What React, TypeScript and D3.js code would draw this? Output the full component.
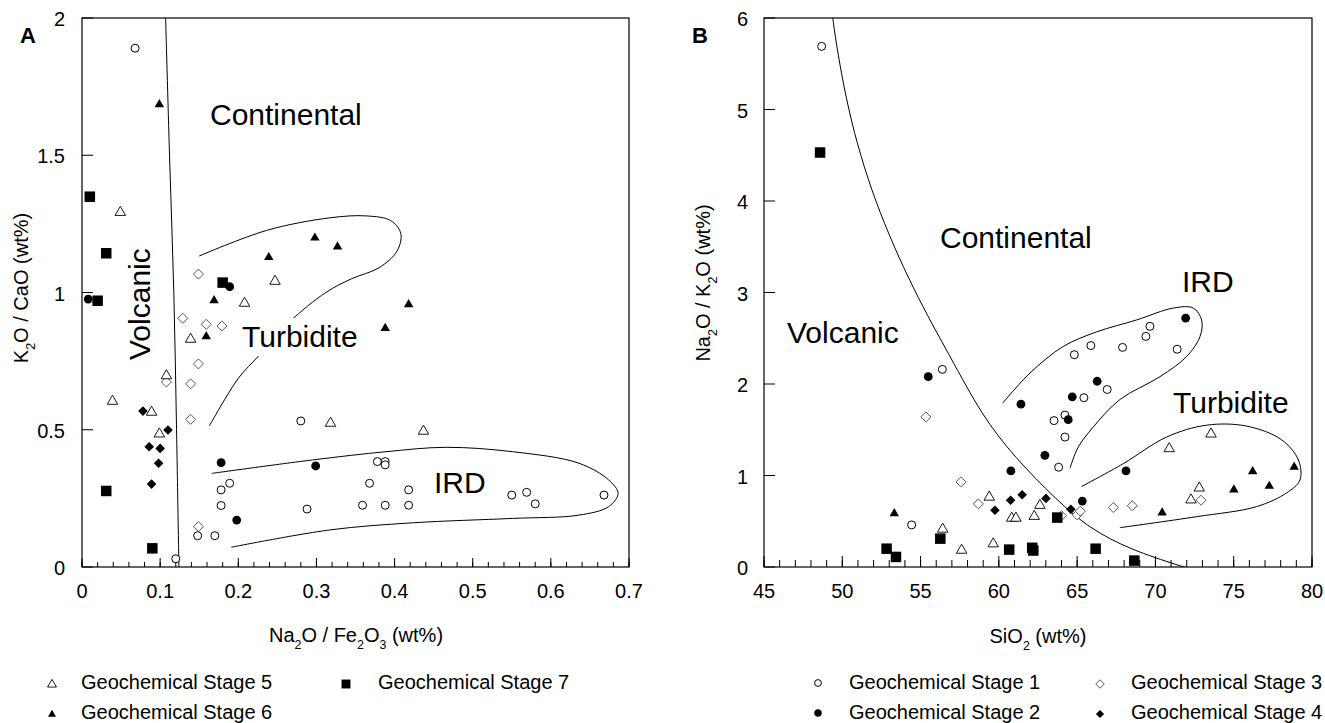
import React from 'react';
import * as d3 from 'd3';

type P = [number, number];

const FONT = '"Liberation Sans", Arial, Helvetica, sans-serif';

// ---------------- Panel A : Na2O/Fe2O3 vs K2O/CaO ----------------
const aXTicks = [0, 0.1, 0.2, 0.3, 0.4, 0.5, 0.6, 0.7];
const aXTickLabels = ['0', '0.1', '0.2', '0.3', '0.4', '0.5', '0.6', '0.7'];
const aYTicks = [0, 0.5, 1, 1.5, 2];
const aYTickLabels = ['0', '0.5', '1', '1.5', '2'];

const aStage1: P[] = [
  [0.068, 1.89], [0.12, 0.03], [0.28, 0.532], [0.189, 0.305], [0.178, 0.281], [0.178, 0.224],
  [0.288, 0.211], [0.148, 0.114], [0.17, 0.114], [0.378, 0.384], [0.388, 0.384], [0.388, 0.372],
  [0.368, 0.305], [0.418, 0.281], [0.359, 0.225], [0.388, 0.225], [0.418, 0.225], [0.55, 0.262],
  [0.569, 0.272], [0.58, 0.23], [0.668, 0.262],
];
const aStage2: P[] = [[0.008, 0.976], [0.189, 1.021], [0.178, 0.38], [0.299, 0.368], [0.198, 0.171]];
const aStage3: P[] = [
  [0.149, 1.067], [0.129, 0.906], [0.159, 0.884], [0.179, 0.878], [0.149, 0.74], [0.139, 0.667],
  [0.108, 0.674], [0.139, 0.538], [0.149, 0.147],
];
const aStage4: P[] = [[0.078, 0.568], [0.11, 0.499], [0.086, 0.438], [0.1, 0.432], [0.098, 0.378], [0.089, 0.302]];
const aStage5: P[] = [
  [0.049, 1.294], [0.247, 1.043], [0.208, 0.963], [0.139, 0.832], [0.108, 0.699], [0.039, 0.606],
  [0.089, 0.566], [0.099, 0.487], [0.318, 0.526], [0.437, 0.497],
];
const aStage6: P[] = [
  [0.099, 1.687], [0.239, 1.13], [0.298, 1.201], [0.327, 1.169], [0.169, 0.973], [0.159, 0.842],
  [0.418, 0.958], [0.388, 0.872],
];
const aStage7: P[] = [[0.01, 1.349], [0.031, 1.143], [0.18, 1.036], [0.02, 0.97], [0.031, 0.277], [0.09, 0.068]];

const aVolcanicBoundary: P[] = [[0.107, 2.0], [0.112, 1.5], [0.1175, 1.0], [0.121, 0.5], [0.124, 0]];
const aTurbiditeField: P[] = [
  [0.15, 1.133], [0.236, 1.226], [0.317, 1.272], [0.364, 1.279], [0.395, 1.262], [0.408, 1.215],
  [0.403, 1.15], [0.38, 1.09], [0.345, 1.05], [0.312, 1.0], [0.266, 0.894], [0.227, 0.772],
  [0.2, 0.687], [0.163, 0.514],
];
const aIrdField: P[] = [
  [0.166, 0.341], [0.295, 0.39], [0.389, 0.42], [0.466, 0.436], [0.551, 0.42], [0.636, 0.378],
  [0.674, 0.317], [0.686, 0.268], [0.674, 0.22], [0.636, 0.189], [0.551, 0.177], [0.423, 0.161],
  [0.317, 0.135], [0.191, 0.072],
];

// ---------------- Panel B : SiO2 vs Na2O/K2O ----------------
const bXTicks = [45, 50, 55, 60, 65, 70, 75, 80];
const bXTickLabels = ['45', '50', '55', '60', '65', '70', '75', '80'];
const bYTicks = [0, 1, 2, 3, 4, 5, 6];
const bYTickLabels = ['0', '1', '2', '3', '4', '5', '6'];

const bStage1: P[] = [
  [48.68, 5.69], [56.39, 2.16], [54.43, 0.46], [69.65, 2.63], [69.39, 2.52], [71.39, 2.38],
  [67.9, 2.4], [65.88, 2.42], [64.82, 2.32], [66.92, 1.94], [65.43, 1.85], [64.22, 1.66],
  [63.52, 1.6], [64.22, 1.42], [63.82, 1.09],
];
const bStage2: P[] = [
  [55.49, 2.08], [71.93, 2.72], [66.28, 2.03], [64.69, 1.86], [61.41, 1.78], [64.43, 1.61],
  [62.94, 1.22], [60.77, 1.05], [68.12, 1.05], [65.33, 0.72],
];
const bStage3: P[] = [
  [55.34, 1.64], [57.58, 0.93], [58.69, 0.69], [72.91, 0.73], [67.31, 0.65], [68.52, 0.67],
  [64.0, 0.56], [65.0, 0.57], [65.2, 0.61],
];
const bStage4: P[] = [[60.75, 0.73], [61.49, 0.79], [59.75, 0.62], [63.01, 0.75], [64.6, 0.63]];
const bStage5: P[] = [
  [56.41, 0.42], [57.62, 0.19], [59.39, 0.77], [60.82, 0.54], [61.09, 0.54], [62.26, 0.56],
  [62.62, 0.68], [59.64, 0.26], [73.55, 1.46], [70.88, 1.3], [72.8, 0.87], [72.27, 0.74],
];
const bStage6: P[] = [[53.32, 0.59], [76.21, 1.05], [78.86, 1.1], [75.01, 0.85], [77.27, 0.89], [70.43, 0.6]];
const bStage7: P[] = [
  [48.58, 4.53], [56.26, 0.31], [52.83, 0.2], [53.43, 0.11], [60.66, 0.19], [62.13, 0.21],
  [62.2, 0.18], [63.73, 0.54], [66.18, 0.2], [68.65, 0.07],
];

const bVolcanicBoundary: P[] = [
  [49.25, 6.25], [49.35, 6.0], [50.3, 5.0], [52.0, 4.0], [54.6, 3.0], [56.9, 2.3], [58.9, 1.66],
  [61.0, 1.2], [63.7, 0.73], [65.8, 0.42], [68.4, 0.19], [71.6, 0.01], [72.8, -0.05],
];
const bIrdField: P[] = [
  [60.24, 1.79], [61.99, 2.12], [64.11, 2.41], [66.25, 2.57], [68.8, 2.7], [71.14, 2.83],
  [72.41, 2.83], [72.95, 2.7], [72.85, 2.52], [71.99, 2.3], [70.29, 2.08], [67.73, 1.83],
  [66.03, 1.53], [65.07, 1.31], [64.54, 1.08],
];
const bTurbiditeField: P[] = [
  [65.29, 0.88], [67.95, 1.13], [70.71, 1.42], [73.27, 1.55], [75.82, 1.54], [78.06, 1.39],
  [79.13, 1.17], [79.23, 0.95], [78.38, 0.81], [76.46, 0.66], [72.63, 0.55], [67.73, 0.43],
];

const stageNames = [
  'Geochemical Stage 1', 'Geochemical Stage 2', 'Geochemical Stage 3', 'Geochemical Stage 4',
  'Geochemical Stage 5', 'Geochemical Stage 6', 'Geochemical Stage 7',
];
type Kind = 'oc' | 'fc' | 'od' | 'fd' | 'ot' | 'ft' | 'fs';
const stageKinds: Kind[] = ['oc', 'fc', 'od', 'fd', 'ot', 'ft', 'fs'];

function Marker({ kind, x, y, k = 1 }: { kind: Kind; x: number; y: number; k?: number }) {
  switch (kind) {
    case 'oc':
      return <circle cx={x} cy={y} r={4 * k} fill="#fff" stroke="#000" strokeWidth={1} />;
    case 'fc':
      return <circle cx={x} cy={y} r={4.4 * k} fill="#000" />;
    case 'od': {
      const h = 5 * k;
      return <polygon points={`${x},${y - h} ${x + h},${y} ${x},${y + h} ${x - h},${y}`} fill="#fff" stroke="#444" strokeWidth={0.9} />;
    }
    case 'fd': {
      const h = 4.8 * k;
      return <polygon points={`${x},${y - h} ${x + h},${y} ${x},${y + h} ${x - h},${y}`} fill="#000" />;
    }
    case 'ot':
    case 'ft': {
      const s = (kind === 'ot' ? 10.5 : 9.5) * k;
      const h = s * 0.866;
      return (
        <polygon
          points={`${x},${y - h * 0.6} ${x + s / 2},${y + h * 0.4} ${x - s / 2},${y + h * 0.4}`}
          fill={kind === 'ot' ? '#fff' : '#000'}
          stroke={kind === 'ot' ? '#000' : 'none'}
          strokeWidth={0.9}
        />
      );
    }
    case 'fs': {
      const s = 10.5 * k;
      return <rect x={x - s / 2} y={y - s / 2} width={s} height={s} fill="#000" />;
    }
  }
  return null;
}

type Scale = d3.ScaleLinear<number, number>;

function Frame({
  sx, sy, xTicks, xLabels, xMinor, yTicks, yLabels, yLabelRight, xMaj, xMin, yMaj,
}: {
  sx: Scale; sy: Scale; xTicks: number[]; xLabels: string[]; xMinor: number[];
  yTicks: number[]; yLabels: string[]; yLabelRight: number; xMaj: number; xMin: number; yMaj: number;
}) {
  const [l, r] = sx.range();
  const [b, t] = sy.range();
  return (
    <g>
      <rect x={l} y={t} width={r - l} height={b - t} fill="none" stroke="#000" strokeWidth={1.2} />
      {xMinor.map((v, i) => (
        <line key={'mn' + i} x1={sx(v)} x2={sx(v)} y1={b} y2={b - xMin} stroke="#000" strokeWidth={1} />
      ))}
      {xTicks.map((v, i) => (
        <line key={'mj' + i} x1={sx(v)} x2={sx(v)} y1={b} y2={b - xMaj} stroke="#000" strokeWidth={1} />
      ))}
      {xTicks.map((v, i) => (
        <text key={'xl' + i} x={sx(v)} y={598} textAnchor="middle" fontSize={20}>{xLabels[i]}</text>
      ))}
      {yTicks.map((v, i) => (
        <line key={'yt' + i} x1={l} x2={l + yMaj} y1={sy(v)} y2={sy(v)} stroke="#000" strokeWidth={1} />
      ))}
      {yTicks.map((v, i) => (
        <text key={'yl' + i} x={yLabelRight} y={sy(v) + 8} textAnchor="end" fontSize={20}>{yLabels[i]}</text>
      ))}
    </g>
  );
}

export default function App() {
  const ax = d3.scaleLinear().domain([0, 0.7]).range([82, 629]);
  const ay = d3.scaleLinear().domain([0, 2]).range([567, 18]);
  const bx = d3.scaleLinear().domain([45, 80]).range([764, 1312]);
  const by = d3.scaleLinear().domain([0, 6]).range([567, 18]);

  const lineA = d3.line<P>().x(d => ax(d[0])).y(d => ay(d[1])).curve(d3.curveCatmullRom.alpha(0.5));
  const lineB = d3.line<P>().x(d => bx(d[0])).y(d => by(d[1])).curve(d3.curveCatmullRom.alpha(0.5));
  const lineBSmooth = d3.line<P>().x(d => bx(d[0])).y(d => by(d[1])).curve(d3.curveBasis);

  const aMinor = d3.range(0, 36).map(i => +(i * 0.02).toFixed(2));
  const bMinor = d3.range(45, 81);

  const aSeries = [aStage1, aStage2, aStage3, aStage4, aStage5, aStage6, aStage7];
  const bSeries = [bStage1, bStage2, bStage3, bStage4, bStage5, bStage6, bStage7];

  const drawOrder = [0, 2, 4, 1, 3, 5, 6];

  const sub = (s: string) => (
    <tspan baselineShift="sub" fontSize="62%">{s}</tspan>
  );

  const legendA = [
    { stage: 4, x: 52, tx: 81, y: 684, by: 689 },
    { stage: 6, x: 346, tx: 378, y: 684, by: 689 },
    { stage: 5, x: 52, tx: 81, y: 714, by: 719 },
  ];
  const legendB = [
    { stage: 0, x: 818, tx: 849, y: 683, by: 689 },
    { stage: 2, x: 1100, tx: 1131, y: 684, by: 689 },
    { stage: 1, x: 818, tx: 849, y: 713, by: 719 },
    { stage: 3, x: 1100, tx: 1131, y: 714, by: 719 },
  ];

  return (
    <svg
      width={1325}
      height={723}
      viewBox="0 0 1325 723"
      style={{ position: 'absolute', left: 0, top: 0, background: '#fff' }}
      fontFamily={FONT}
    >
      <rect x={0} y={0} width={1325} height={723} fill="#fff" />
      <defs>
        <clipPath id="clipA"><rect x={82} y={18} width={547} height={549} /></clipPath>
        <clipPath id="clipB"><rect x={764} y={18} width={548} height={549} /></clipPath>
      </defs>

      {/* ---------- Panel A ---------- */}
      <g clipPath="url(#clipA)" fill="none" stroke="#000" strokeWidth={1}>
        <path d={lineA(aVolcanicBoundary) || ''} />
        <path d={lineA(aTurbiditeField) || ''} />
        <path d={lineA(aIrdField) || ''} />
      </g>
      <text x={210} y={125} fontSize={30}>Continental</text>
      <text transform="translate(150,360) rotate(-90)" fontSize={30}>Volcanic</text>
      <rect x={237} y={318} width={126} height={38} fill="#fff" />
      <text x={242} y={347} fontSize={30}>Turbidite</text>
      <text x={434} y={493} fontSize={30}>IRD</text>
      {drawOrder.map(si =>
        aSeries[si].map((d, i) => <Marker key={`a${si}-${i}`} kind={stageKinds[si]} x={ax(d[0])} y={ay(d[1])} />)
      )}
      <Frame
        sx={ax} sy={ay} xTicks={aXTicks} xLabels={aXTickLabels} xMinor={aMinor}
        yTicks={aYTicks} yLabels={aYTickLabels} yLabelRight={65} xMaj={9} xMin={5} yMaj={11}
      />
      <text x={20} y={43} fontSize={22} fontWeight="bold">A</text>
      <text x={356} y={642} textAnchor="middle" fontSize={20}>
        Na{sub('2')}O / Fe{sub('2')}O{sub('3')} (wt%)
      </text>
      <text transform="translate(28,288) rotate(-90)" textAnchor="middle" fontSize={20}>
        K{sub('2')}O / CaO (wt%)
      </text>

      {/* ---------- Panel B ---------- */}
      <g clipPath="url(#clipB)" fill="none" stroke="#000" strokeWidth={1}>
        <path d={lineBSmooth(bVolcanicBoundary) || ''} />
        <path d={lineB(bIrdField) || ''} />
        <path d={lineB(bTurbiditeField) || ''} />
      </g>
      <text x={940} y={248} fontSize={30}>Continental</text>
      <text x={787} y={343} fontSize={30}>Volcanic</text>
      <text x={1182} y={292} fontSize={30}>IRD</text>
      <text x={1173} y={413} fontSize={30}>Turbidite</text>
      {drawOrder.map(si =>
        bSeries[si].map((d, i) => <Marker key={`b${si}-${i}`} kind={stageKinds[si]} x={bx(d[0])} y={by(d[1])} />)
      )}
      <Frame
        sx={bx} sy={by} xTicks={bXTicks} xLabels={bXTickLabels} xMinor={bMinor}
        yTicks={bYTicks} yLabels={bYTickLabels} yLabelRight={748} xMaj={11} xMin={7} yMaj={11}
      />
      <text x={692} y={43} fontSize={22} fontWeight="bold">B</text>
      <text x={1038} y={643} textAnchor="middle" fontSize={20}>
        SiO{sub('2')} (wt%)
      </text>
      <text transform="translate(710,283) rotate(-90)" textAnchor="middle" fontSize={20}>
        Na{sub('2')}O / K{sub('2')}O (wt%)
      </text>

      {/* ---------- Legends ---------- */}
      {legendA.concat(legendB).map((e, i) => (
        <g key={'lg' + i}>
          <Marker kind={stageKinds[e.stage]} x={e.x} y={e.y} k={0.85} />
          <text x={e.tx} y={e.by} fontSize={20}>{stageNames[e.stage]}</text>
        </g>
      ))}
    </svg>
  );
}
